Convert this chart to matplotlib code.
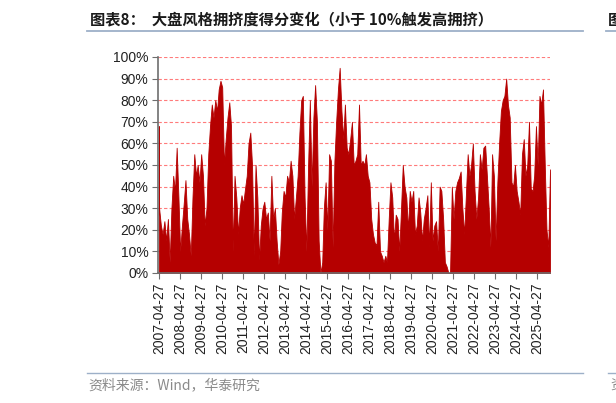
import matplotlib
matplotlib.use("Agg")
import matplotlib.pyplot as plt
import matplotlib.dates as mdates
import numpy as np
import pandas as pd

plt.rcParams['font.family'] = ['Liberation Sans', 'Noto Sans CJK SC', 'DejaVu Sans']

# ---- data (monthly readings, %, first point 2007-04-27) ----
v2007 = [68, 30, 22, 18, 24, 15, 25, 5, 30]
v2008 = [45, 38, 58, 35, 10, 22, 32, 43, 25, 18, 8, 35]
v2009 = [55, 45, 50, 42, 55, 45, 22, 30, 55, 68, 78, 72]
v2010 = [80, 75, 85, 89, 86, 50, 62, 72, 79, 68, 10, 45]
v2011 = [35, 18, 30, 36, 32, 39, 45, 60, 65, 50, 8, 50]
v2012 = [35, 6, 22, 30, 33, 25, 28, 15, 45, 25, 30, 15]
v2013 = [4, 10, 28, 38, 35, 45, 42, 52, 45, 25, 35, 45]
v2014 = [65, 80, 82, 35, 10, 50, 80, 40, 72, 87, 70, 15]
v2015 = [0, 5, 30, 42, 20, 55, 52, 12, 52, 70, 85, 95]
v2016 = [75, 62, 78, 58, 55, 62, 70, 50, 52, 55, 78, 50]
v2017 = [52, 50, 55, 45, 42, 25, 18, 14, 13, 33, 10, 8]
v2018 = [5, 8, 5, 25, 42, 35, 15, 27, 25, 10, 30, 50]
v2019 = [40, 35, 20, 38, 33, 38, 18, 22, 35, 28, 15, 25]
v2020 = [30, 36, 12, 42, 15, 22, 24, 10, 40, 38, 25, 5]
v2021 = [3, 0, 0, 40, 25, 38, 42, 44, 47, 30, 18, 36]
v2022 = [55, 45, 50, 60, 38, 25, 35, 55, 48, 58, 59, 45]
v2023 = [30, 12, 55, 45, 15, 42, 60, 75, 80, 82, 90, 78]
v2024 = [72, 42, 40, 50, 38, 33, 27, 55, 62, 45, 50, 70]
v2025 = [39, 38, 45, 68, 50, 82, 78, 85, 50, 20, 12, 48]

years = list(range(2007, 2026))
tick_labels = [f"{y}-04-27" for y in years]

values = np.array(v2007 + v2008 + v2009 + v2010 + v2011 + v2012 + v2013 + v2014 +
                  v2015 + v2016 + v2017 + v2018 + v2019 + v2020 + v2021 + v2022 +
                  v2023 + v2024 + v2025) / 100.0
dates = [pd.Timestamp("2007-04-27")] + list(pd.date_range("2007-05-01", periods=len(values) - 1, freq="MS"))

# ---- figure ----
fig = plt.figure(figsize=(6.16, 4.03), dpi=100)
ax = fig.add_axes([158/616, 1-273/403, (550-158)/616, (273-57)/403])

ax.fill_between(dates, 0, values, color='#B50000', linewidth=0.6, edgecolor='#B50000', zorder=2)

ax.set_ylim(0, 1)
ax.set_xlim(pd.Timestamp("2007-04-12"), dates[-1])
ax.set_yticks(np.arange(0, 1.01, 0.1))
ax.set_yticklabels([f"{int(round(t*100))}%" for t in np.arange(0, 1.01, 0.1)], fontsize=10)
for yv in np.arange(0.1, 1.01, 0.1):
    ax.axhline(yv, color='#FF5A5A', linestyle=(0, (3, 2)), linewidth=0.8, alpha=0.8, zorder=1)

ax.set_xticks([pd.Timestamp(t) for t in tick_labels])
ax.set_xticklabels(tick_labels, rotation=90, fontsize=10)

for s in ['top', 'right']:
    ax.spines[s].set_visible(False)
ax.spines['left'].set_color('#6e6e6e')
ax.spines['bottom'].set_color('#6e6e6e')
ax.spines['left'].set_linewidth(1.2)
ax.spines['bottom'].set_linewidth(1.2)
ax.tick_params(axis='both', direction='out', length=4, color='#6e6e6e', labelcolor='#222222', pad=3)
ax.set_facecolor('none')

# title & source
fig.text(90/616, 1-19.5/403, "图表8：  大盘风格拥挤度得分变化（小于 10%触发高拥挤）",
         fontsize=11, fontweight='bold', ha='left', va='center', color='#1a1a1a',
         family=['Noto Sans CJK SC', 'DejaVu Sans'])
fig.add_artist(plt.Line2D([87/616, 583/616], [1-31/403, 1-31/403], color='#9DB0C8', linewidth=1.3))
fig.add_artist(plt.Line2D([606/616, 1.0], [1-31/403, 1-31/403], color='#9DB0C8', linewidth=1.3))
fig.text(608/616, 1-19.5/403, "图", fontsize=11, fontweight='bold', ha='left', va='center',
         color='#1a1a1a', family=['Noto Sans CJK SC', 'DejaVu Sans'])

fig.add_artist(plt.Line2D([87/616, 583/616], [1-373/403, 1-373/403], color='#9DB0C8', linewidth=1.0))
fig.add_artist(plt.Line2D([608/616, 1.0], [1-373/403, 1-373/403], color='#9DB0C8', linewidth=1.0))
fig.text(88/616, 1-385/403, "资料来源：Wind，华泰研究", fontsize=10, ha='left', va='center',
         color='#8a8a8a', family=['Noto Sans CJK SC', 'DejaVu Sans'])
fig.text(610/616, 1-385/403, "资", fontsize=10, ha='left', va='center',
         color='#8a8a8a', family=['Noto Sans CJK SC', 'DejaVu Sans'])

fig.savefig("out.png", dpi=100)
